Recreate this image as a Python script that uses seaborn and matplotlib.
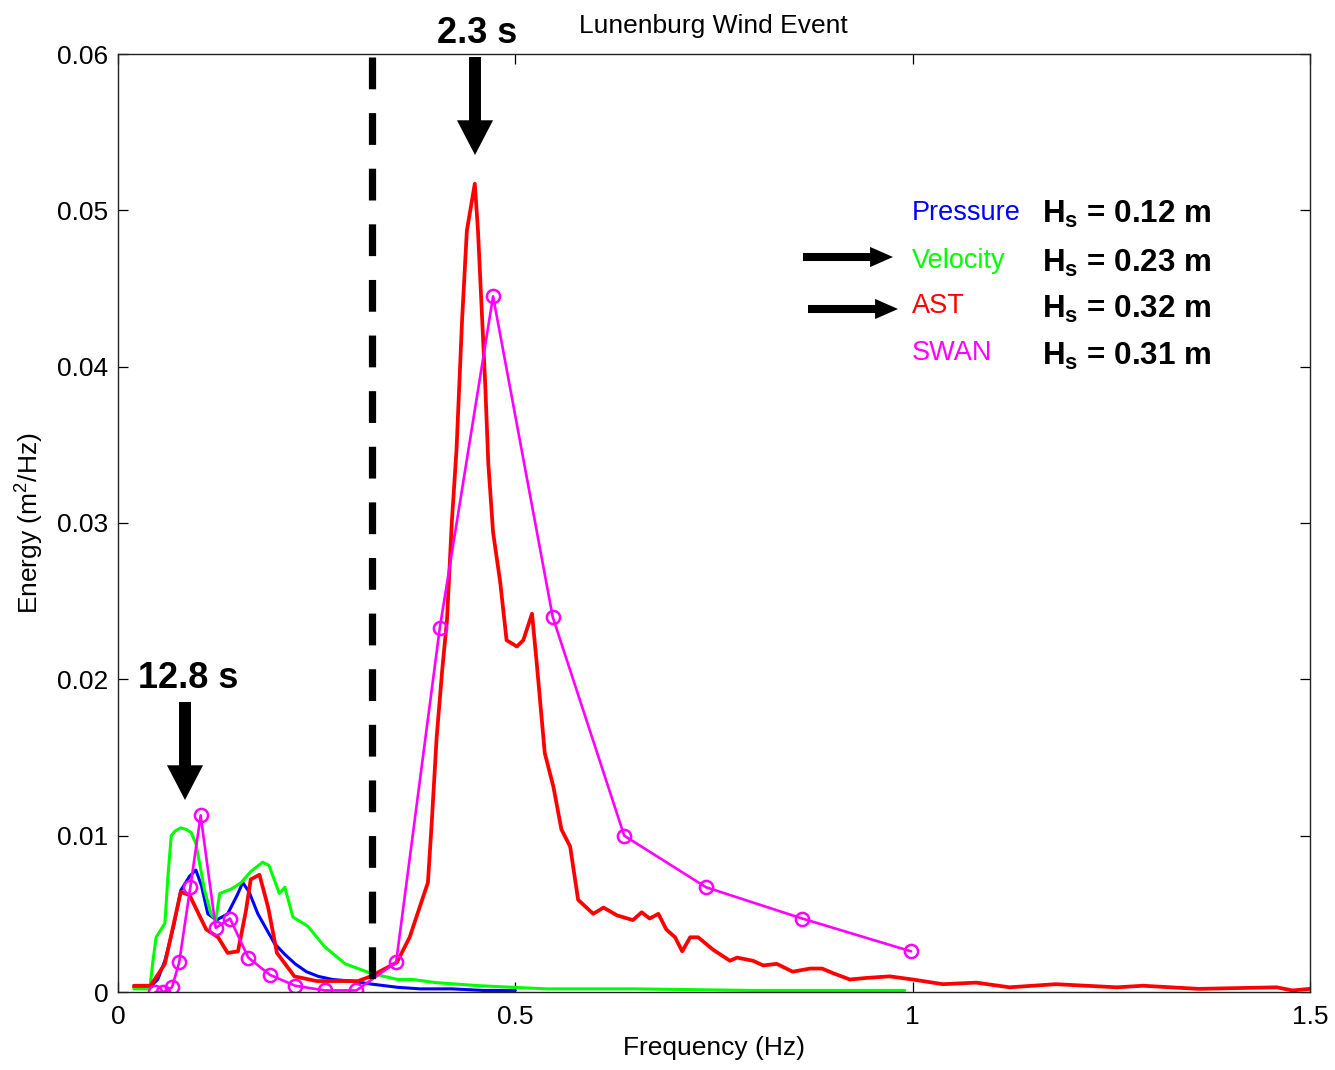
import matplotlib
matplotlib.use("Agg")
import matplotlib.pyplot as plt
import seaborn as sns
import pandas as pd

# ---------------- data ----------------
pressure_f = [0.02, 0.04, 0.05, 0.059, 0.07, 0.079, 0.09, 0.098, 0.105, 0.113,
              0.124, 0.138, 0.150, 0.157, 0.165, 0.176, 0.187, 0.197, 0.21, 0.223,
              0.237, 0.252, 0.27, 0.293, 0.32, 0.352, 0.38, 0.42, 0.46, 0.50]
pressure_e = [0.0003, 0.0003, 0.0008, 0.0020, 0.0042, 0.0065, 0.0074, 0.0078, 0.0068, 0.0050,
              0.0046, 0.0050, 0.0062, 0.0070, 0.0064, 0.0050, 0.0040, 0.0031, 0.0024, 0.0018,
              0.0013, 0.0010, 0.0008, 0.0007, 0.0005, 0.0003, 0.0002, 0.0002, 0.0001, 0.0001]

velocity_f = [0.020, 0.040, 0.044, 0.048, 0.059, 0.063, 0.067, 0.072, 0.079, 0.086,
              0.092, 0.098, 0.109, 0.117, 0.123, 0.128, 0.143, 0.155, 0.167, 0.182,
              0.190, 0.203, 0.210, 0.220, 0.239, 0.260, 0.286, 0.318, 0.352, 0.371,
              0.400, 0.455, 0.540, 0.650, 0.800, 0.990]
velocity_e = [0.0002, 0.0002, 0.0020, 0.0035, 0.0044, 0.0075, 0.0100, 0.0103, 0.0105, 0.0104,
              0.0102, 0.0095, 0.0065, 0.0050, 0.0046, 0.0063, 0.0066, 0.0070, 0.0077, 0.0083,
              0.0081, 0.0063, 0.0067, 0.0048, 0.0042, 0.0029, 0.0018, 0.0012, 0.0008, 0.0008,
              0.0006, 0.0004, 0.0002, 0.0002, 0.0001, 0.0001]

ast_f = [0.02, 0.041, 0.059, 0.079, 0.090, 0.111, 0.126, 0.138, 0.151, 0.161,
         0.167, 0.178, 0.189, 0.200, 0.222, 0.250, 0.302, 0.318, 0.351, 0.367,
         0.390, 0.395, 0.401, 0.408, 0.414, 0.420, 0.426, 0.433, 0.439, 0.449,
         0.453, 0.462, 0.466, 0.472, 0.481, 0.489, 0.502, 0.510, 0.521, 0.527,
         0.537, 0.548, 0.558, 0.569, 0.579, 0.598, 0.611, 0.628, 0.648, 0.659,
         0.669, 0.680, 0.690, 0.701, 0.710, 0.720, 0.730, 0.749, 0.770, 0.779,
         0.799, 0.812, 0.829, 0.849, 0.871, 0.886, 0.900, 0.921, 0.942, 0.971,
         1.000, 1.038, 1.080, 1.122, 1.180, 1.257, 1.290, 1.360, 1.458, 1.478, 1.500]
ast_e = [0.0004, 0.0004, 0.0018, 0.0064, 0.0062, 0.0040, 0.0035, 0.0025, 0.0026, 0.0052,
         0.0072, 0.0075, 0.0054, 0.0025, 0.0010, 0.0007, 0.0007, 0.0010, 0.0019, 0.0035,
         0.0070, 0.0110, 0.0163, 0.0206, 0.0238, 0.0300, 0.0347, 0.0430, 0.0487, 0.0517,
         0.0487, 0.0390, 0.0338, 0.0294, 0.0262, 0.0225, 0.0221, 0.0225, 0.0242, 0.0210,
         0.0153, 0.0131, 0.0104, 0.0093, 0.0059, 0.0050, 0.0054, 0.0049, 0.0046, 0.0051,
         0.0047, 0.0050, 0.0040, 0.0035, 0.0026, 0.0035, 0.0035, 0.0027, 0.0020, 0.0022,
         0.0020, 0.0017, 0.0018, 0.0013, 0.0015, 0.0015, 0.0012, 0.0008, 0.0009, 0.0010,
         0.0008, 0.0005, 0.0006, 0.0003, 0.0005, 0.0003, 0.0004, 0.0002, 0.0003, 0.0001, 0.0002]

swan_f = [0.047, 0.057, 0.068, 0.077, 0.091, 0.104, 0.123, 0.141, 0.164, 0.191,
          0.223, 0.260, 0.300, 0.350, 0.405, 0.472, 0.547, 0.637, 0.740, 0.861, 0.998]
swan_e = [0.0000, 0.0000, 0.0003, 0.0019, 0.0067, 0.0113, 0.0041, 0.0047, 0.0022, 0.0011,
          0.0004, 0.0001, 0.0001, 0.0019, 0.0233, 0.0445, 0.0240, 0.0100, 0.0067, 0.0047, 0.0026]

series_names = ["Pressure", "Velocity", "AST", "SWAN"]
series_colors = ["#0000ff", "#00ff00", "#ff0000", "#ff00ff"]
hs_values = ["0.12", "0.23", "0.32", "0.31"]

cutoff_freq = 0.32
x_ticks = [0, 0.5, 1, 1.5]
x_tick_labels = ["0", "0.5", "1", "1.5"]
y_ticks = [0, 0.01, 0.02, 0.03, 0.04, 0.05, 0.06]
y_tick_labels = ["0", "0.01", "0.02", "0.03", "0.04", "0.05", "0.06"]

# ---------------- style ----------------
sns.set_style("ticks")
plt.rcParams["font.family"] = ["Liberation Sans", "DejaVu Sans"]
plt.rcParams["text.color"] = "black"
plt.rcParams["axes.labelcolor"] = "black"
plt.rcParams["xtick.color"] = "black"
plt.rcParams["ytick.color"] = "black"
plt.rcParams["mathtext.fontset"] = "custom"
plt.rcParams["mathtext.rm"] = "Liberation Sans"
plt.rcParams["mathtext.it"] = "Liberation Sans:italic"
plt.rcParams["mathtext.bf"] = "Liberation Sans:bold"
plt.rcParams["mathtext.default"] = "regular"

W, H = 1335, 1070
fig = plt.figure(figsize=(W / 100, H / 100), dpi=100)
ax = fig.add_axes([118 / W, 1 - 992 / H, (1310 - 118) / W, (992 - 54) / H])

df_p = pd.DataFrame({"f": pressure_f, "E": pressure_e})
df_v = pd.DataFrame({"f": velocity_f, "E": velocity_e})
df_a = pd.DataFrame({"f": ast_f, "E": ast_e})
df_s = pd.DataFrame({"f": swan_f, "E": swan_e})

sns.lineplot(data=df_p, x="f", y="E", ax=ax, color=series_colors[0], lw=2.2,
             sort=False, estimator=None)
sns.lineplot(data=df_v, x="f", y="E", ax=ax, color=series_colors[1], lw=2.2,
             sort=False, estimator=None)
sns.lineplot(data=df_a, x="f", y="E", ax=ax, color=series_colors[2], lw=2.7,
             sort=False, estimator=None)
sns.lineplot(data=df_s, x="f", y="E", ax=ax, color=series_colors[3], lw=1.9,
             sort=False, estimator=None, marker="o", markersize=9.5,
             mfc="none", mec=series_colors[3], mew=1.8)

# dashed cutoff line (drawn top to bottom)
ax.plot([cutoff_freq, cutoff_freq], [0.0598, 0.0], color="black", lw=5.2,
        dashes=(4.4, 3.3), solid_capstyle="butt", dash_capstyle="butt")

ax.set_xlim(0, 1.5)
ax.set_ylim(0, 0.06)
ax.set_xticks(x_ticks)
ax.set_xticklabels(x_tick_labels)
ax.set_yticks(y_ticks)
ax.set_yticklabels(y_tick_labels)
ax.tick_params(direction="in", length=7, width=0.9, top=True, right=True,
               labelsize=19, colors="black")
ax.tick_params(axis="x", pad=9)
ax.tick_params(axis="y", pad=7)
for sp in ax.spines.values():
    sp.set_visible(True)
    sp.set_linewidth(1.0)
    sp.set_color("#222222")

ax.set_xlabel("Frequency (Hz)", fontsize=19, color="black")
ax.set_ylabel("Energy (m$^2$/Hz)", fontsize=19, color="black")
ax.xaxis.set_label_coords(0.5, (992 - 1036) / 938)
ax.yaxis.set_label_coords((46 - 118) / 1192, 0.5)

# title
fig.text(713 / W, 1 - 33 / H, "Lunenburg Wind Event", fontsize=19,
         ha="center", va="baseline", color="black")

# big arrows and period labels
big_arrow = "simple,head_length=25,head_width=26,tail_width=8.6"
ax.annotate("", xy=(475, H - 155), xytext=(475, H - 57), xycoords="figure pixels",
            textcoords="figure pixels",
            arrowprops=dict(arrowstyle=big_arrow, color="black", lw=0,
                            shrinkA=0, shrinkB=0, mutation_scale=1))
ax.annotate("", xy=(185, H - 800), xytext=(185, H - 702), xycoords="figure pixels",
            textcoords="figure pixels",
            arrowprops=dict(arrowstyle=big_arrow, color="black", lw=0,
                            shrinkA=0, shrinkB=0, mutation_scale=1))
fig.text(477 / W, 1 - 43 / H, "2.3 s", fontsize=26, fontweight="bold",
         ha="center", va="baseline", color="black")
fig.text(188 / W, 1 - 688 / H, "12.8 s", fontsize=26, fontweight="bold",
         ha="center", va="baseline", color="black")

# legend-like labels
label_baselines = [220, 268, 313, 360]
hs_baselines = [223, 272, 318, 365]
for name, col, hs, yb, yh in zip(series_names, series_colors, hs_values,
                                  label_baselines, hs_baselines):
    fig.text(912 / W, 1 - yb / H, name, color=col, fontsize=19.5,
             ha="left", va="baseline")
    fig.text(1042 / W, 1 - yh / H, r"$\mathbf{H_s}$ = " + hs + " m", color="black",
             fontsize=22.6, fontweight="bold", ha="left", va="baseline")

small_arrow = "simple,head_length=16.5,head_width=14.5,tail_width=5.8"
for (x0, x1, y) in [(803, 893, 257), (808, 898, 309)]:
    ax.annotate("", xy=(x1, H - y), xytext=(x0, H - y), xycoords="figure pixels",
                textcoords="figure pixels",
                arrowprops=dict(arrowstyle=small_arrow, color="black", lw=0,
                                shrinkA=0, shrinkB=0, mutation_scale=1))

fig.savefig("out.png", dpi=100, facecolor="white")
